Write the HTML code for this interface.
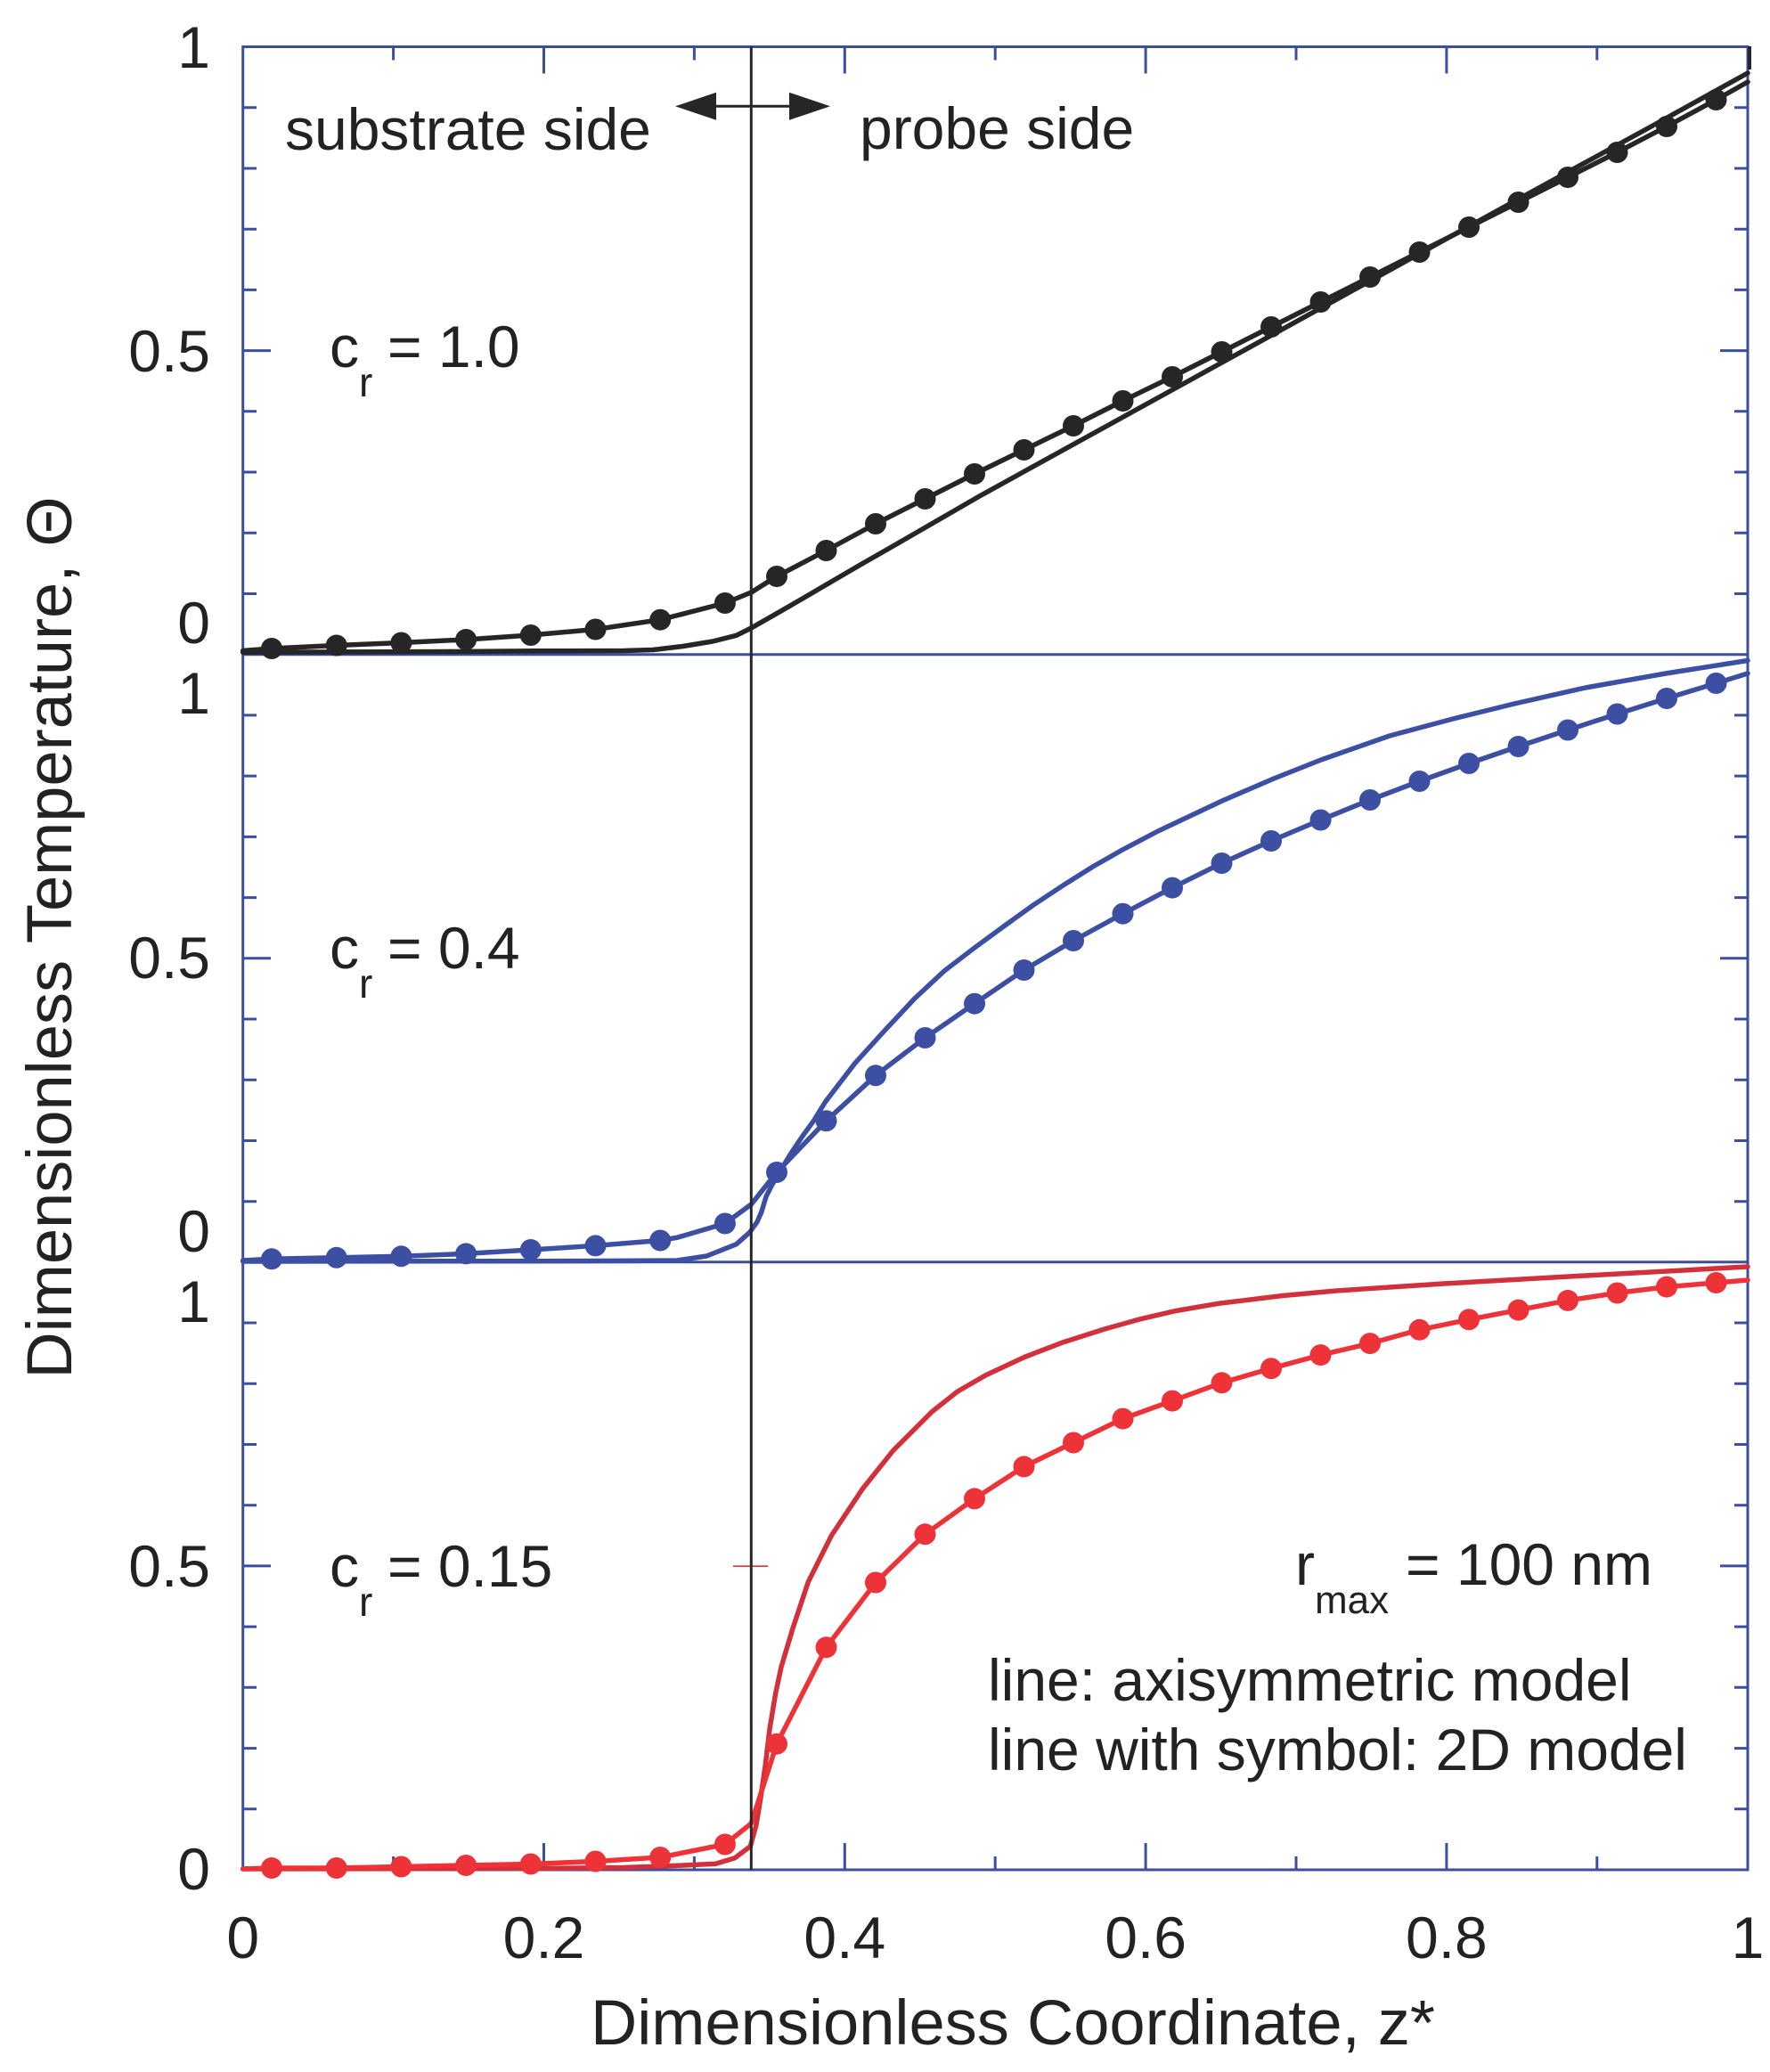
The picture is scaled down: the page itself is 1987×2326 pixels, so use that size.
<!DOCTYPE html>
<html>
<head>
<meta charset="utf-8">
<style>
html,body{margin:0;padding:0;background:#fff;}
svg{display:block;}
text{font-family:"Liberation Sans",Arial,sans-serif;fill:#222;}
</style>
</head>
<body>
<svg width="1987" height="2326" viewBox="0 0 1987 2326" xmlns="http://www.w3.org/2000/svg">
<rect x="0" y="0" width="1987" height="2326" fill="#fff"/>

<!-- Axes frame -->
<g stroke="#3d4ea0" stroke-width="3" fill="none">
  <rect x="272.7" y="52.5" width="1689.3" height="2046.5"/>
  <line x1="272.7" y1="734.7" x2="1962" y2="734.7"/>
  <line x1="272.7" y1="1416.8" x2="1962" y2="1416.8"/>
  <path d="M272.7 120.7H288M272.7 189H288M272.7 257.2H288M272.7 325.4H288M272.7 393.6H304M272.7 461.8H288M272.7 530H288M272.7 598.3H288M272.7 666.5H288
           M272.7 802.9H288M272.7 871.1H288M272.7 939.4H288M272.7 1007.6H288M272.7 1075.8H304M272.7 1144H288M272.7 1212.2H288M272.7 1280.5H288M272.7 1348.7H288
           M272.7 1485H288M272.7 1553.2H288M272.7 1621.5H288M272.7 1689.7H288M272.7 1757.9H304M272.7 1826.1H288M272.7 1894.3H288M272.7 1962.6H288M272.7 2030.8H288"/>
  <path d="M1962 120.7H1947M1962 189H1947M1962 257.2H1947M1962 325.4H1947M1962 393.6H1931M1962 461.8H1947M1962 530H1947M1962 598.3H1947M1962 666.5H1947
           M1962 802.9H1947M1962 871.1H1947M1962 939.4H1947M1962 1007.6H1947M1962 1075.8H1931M1962 1144H1947M1962 1212.2H1947M1962 1280.5H1947M1962 1348.7H1947
           M1962 1485H1947M1962 1553.2H1947M1962 1621.5H1947M1962 1689.7H1947M1962 1757.9H1931M1962 1826.1H1947M1962 1894.3H1947M1962 1962.6H1947M1962 2030.8H1947"/>
  <path d="M441.6 52.5V67.5M610.5 52.5V82.5M779.4 52.5V67.5M948.3 52.5V82.5M1117.2 52.5V67.5M1286.1 52.5V82.5M1455 52.5V67.5M1623.9 52.5V82.5M1792.8 52.5V67.5"/>
  <path d="M441.6 2099V2084M610.5 2099V2069M779.4 2099V2084M948.3 2099V2069M1117.2 2099V2084M1286.1 2099V2069M1455 2099V2084M1623.9 2099V2069M1792.8 2099V2084"/>
</g>

<!-- ===== Panel 1 (black, cr = 1.0) ===== -->
<g fill="none" stroke="#262626" stroke-width="5.5" stroke-linejoin="round" stroke-linecap="round">
  <polyline points="272.7,732.3 500,731.5 600,730.8 700,730.5 733,729.5 766.7,725.5 800,720 826.7,713.3 843.3,705 866.7,691.7 900,672.5 933.3,653 966.7,633.5 1000,614.5 1050,585.6 1100,556.7 1300,446.5 1500,336.3 1700,226 1850,144 1962,82"/>
  <polyline points="272.7,730.5 305,728 377.7,724.5 450.4,721.5 523.1,718 595.8,713 668.5,706.5 741.2,695.7 813.9,677 843.3,665 872,647 927.5,618 983,588 1038.5,560 1094,532 1149.5,505 1205,478 1260.5,450 1316,423 1371.5,395 1427,367 1482.5,339 1538,311 1593.5,283 1649,255 1704.5,227 1760,199 1815.5,171 1871,142 1926.5,112 1962,92"/>
</g>
<line x1="1964" y1="52" x2="1964" y2="78" stroke="#262626" stroke-width="4"/>
<g fill="#262626">
  <circle cx="305" cy="728" r="12"/><circle cx="377.7" cy="724.5" r="12"/><circle cx="450.4" cy="721.5" r="12"/><circle cx="523.1" cy="718" r="12"/>
  <circle cx="595.8" cy="713" r="12"/><circle cx="668.5" cy="706.5" r="12"/><circle cx="741.2" cy="695.7" r="12"/><circle cx="813.9" cy="677" r="12"/>
  <circle cx="872" cy="647" r="12"/><circle cx="927.5" cy="618" r="12"/><circle cx="983" cy="588" r="12"/><circle cx="1038.5" cy="560" r="12"/>
  <circle cx="1094" cy="532" r="12"/><circle cx="1149.5" cy="505" r="12"/><circle cx="1205" cy="478" r="12"/><circle cx="1260.5" cy="450" r="12"/>
  <circle cx="1316" cy="423" r="12"/><circle cx="1371.5" cy="395" r="12"/><circle cx="1427" cy="367" r="12"/><circle cx="1482.5" cy="339" r="12"/>
  <circle cx="1538" cy="311" r="12"/><circle cx="1593.5" cy="283" r="12"/><circle cx="1649" cy="255" r="12"/><circle cx="1704.5" cy="227" r="12"/>
  <circle cx="1760" cy="199" r="12"/><circle cx="1815.5" cy="171" r="12"/><circle cx="1871" cy="142" r="12"/><circle cx="1926.5" cy="112" r="12"/>
</g>

<!-- ===== Panel 2 (blue, cr = 0.4) ===== -->
<g fill="none" stroke="#3c4fa2" stroke-width="5.5" stroke-linejoin="round" stroke-linecap="round">
  <polyline points="272.7,1416 600,1415.7 700,1415.4 760,1415 793.3,1410 826.7,1396.7 841.7,1383.3 850,1371.7 855,1360 860,1343.3 866.7,1330 876.7,1313.3 886.7,1296.7 900,1276.7 913.3,1258.3 926.7,1236.7 960,1193.3 993.3,1156.7 1026.7,1121 1060,1090 1093.3,1064.5 1126.7,1040 1160,1016 1193.3,994 1226.7,973 1260,954 1300,933 1372,899 1430,874 1483,853 1560,826 1631,807 1700,790 1780,772 1870,756 1962,741.5"/>
  <polyline points="272.7,1415 305,1413.3 377.7,1411.8 450.4,1410.3 523.1,1407.4 595.8,1403 668.5,1398.4 741.2,1392.5 760,1389.3 813.9,1373.5 843.3,1352 872,1316 927.5,1258.3 983,1207.3 1038.5,1165 1094,1126.7 1149.5,1089 1205,1056 1260.5,1025.7 1316,996.6 1371.5,969 1427,944 1482.5,920.5 1538,898 1593.5,877 1649,857 1704.5,838 1760,819.5 1815.5,801.5 1871,784 1926.5,767 1962,756"/>
</g>
<g fill="#3c4fa2">
  <circle cx="305" cy="1413.3" r="12"/><circle cx="377.7" cy="1411.8" r="12"/><circle cx="450.4" cy="1410.3" r="12"/><circle cx="523.1" cy="1407.4" r="12"/>
  <circle cx="595.8" cy="1403" r="12"/><circle cx="668.5" cy="1398.4" r="12"/><circle cx="741.2" cy="1392.5" r="12"/><circle cx="813.9" cy="1373.5" r="12"/>
  <circle cx="872" cy="1316" r="12"/><circle cx="927.5" cy="1258.3" r="12"/><circle cx="983" cy="1207.3" r="12"/><circle cx="1038.5" cy="1165" r="12"/>
  <circle cx="1094" cy="1126.7" r="12"/><circle cx="1149.5" cy="1089" r="12"/><circle cx="1205" cy="1056" r="12"/><circle cx="1260.5" cy="1025.7" r="12"/>
  <circle cx="1316" cy="996.6" r="12"/><circle cx="1371.5" cy="969" r="12"/><circle cx="1427" cy="944" r="12"/><circle cx="1482.5" cy="920.5" r="12"/>
  <circle cx="1538" cy="898" r="12"/><circle cx="1593.5" cy="877" r="12"/><circle cx="1649" cy="857" r="12"/><circle cx="1704.5" cy="838" r="12"/>
  <circle cx="1760" cy="819.5" r="12"/><circle cx="1815.5" cy="801.5" r="12"/><circle cx="1871" cy="784" r="12"/><circle cx="1926.5" cy="767" r="12"/>
</g>

<!-- ===== Panel 3 (red, cr = 0.15) ===== -->
<g fill="none" stroke-width="5.5" stroke-linejoin="round" stroke-linecap="round">
  <polyline stroke="#d2303b" points="272.7,2098 600,2097.5 700,2096.5 760,2094.3 803.4,2092.2 825,2085.7 842.4,2072.6 848.9,2048.8 853.2,2022.8 858.9,1983.7 864.1,1940.4 870.6,1901.3 877.1,1871 890.1,1827.6 907.4,1775.6 933.5,1723.6 968.2,1671.5 1002.8,1628.2 1046.2,1584.8 1075,1562 1106.9,1543.6 1150,1523.5 1193.7,1506.7 1240,1492 1280.4,1480.7 1320,1471.5 1367.1,1463.4 1440,1454.5 1500,1449 1621,1441 1780,1432 1962,1422"/>
  <polyline stroke="#ee3338" points="272.7,2098 305,2097 377.7,2097 450.4,2095.5 523.1,2094 595.8,2092.5 668.5,2089.5 741.2,2085 813.9,2070.5 843.3,2047 872,1957.7 927.5,1849.3 983,1776.5 1038.5,1722.3 1094,1682.4 1149.5,1646.4 1205,1619.5 1260.5,1592.6 1316,1572.6 1371.5,1552.3 1427,1536.2 1482.5,1521.1 1538,1508.1 1593.5,1492.8 1649,1481.3 1704.5,1470.6 1760,1459.9 1815.5,1451.5 1871,1444.6 1926.5,1440 1962,1437"/>
</g>
<g fill="#ee3338">
  <circle cx="305" cy="2097" r="12"/><circle cx="377.7" cy="2097" r="12"/><circle cx="450.4" cy="2095.5" r="12"/><circle cx="523.1" cy="2094" r="12"/>
  <circle cx="595.8" cy="2092.5" r="12"/><circle cx="668.5" cy="2089.5" r="12"/><circle cx="741.2" cy="2085" r="12"/><circle cx="813.9" cy="2070.5" r="12"/>
  <circle cx="872" cy="1957.7" r="12"/><circle cx="927.5" cy="1849.3" r="12"/><circle cx="983" cy="1776.5" r="12"/><circle cx="1038.5" cy="1722.3" r="12"/>
  <circle cx="1094" cy="1682.4" r="12"/><circle cx="1149.5" cy="1646.4" r="12"/><circle cx="1205" cy="1619.5" r="12"/><circle cx="1260.5" cy="1592.6" r="12"/>
  <circle cx="1316" cy="1572.6" r="12"/><circle cx="1371.5" cy="1552.3" r="12"/><circle cx="1427" cy="1536.2" r="12"/><circle cx="1482.5" cy="1521.1" r="12"/>
  <circle cx="1538" cy="1508.1" r="12"/><circle cx="1593.5" cy="1492.8" r="12"/><circle cx="1649" cy="1481.3" r="12"/><circle cx="1704.5" cy="1470.6" r="12"/>
  <circle cx="1760" cy="1459.9" r="12"/><circle cx="1815.5" cy="1451.5" r="12"/><circle cx="1871" cy="1444.6" r="12"/><circle cx="1926.5" cy="1440" r="12"/>
</g>
<line x1="823" y1="1758.2" x2="862" y2="1758.2" stroke="#e0333a" stroke-width="1.6"/>

<!-- Vertical interface line -->
<line x1="843.3" y1="52.5" x2="843.3" y2="2099" stroke="#262626" stroke-width="3"/>

<!-- Double arrow -->
<line x1="790" y1="119.3" x2="900" y2="119.3" stroke="#262626" stroke-width="3"/>
<polygon points="758,119.3 804,103.8 804,134.8" fill="#262626"/>
<polygon points="932,119.3 886,103.8 886,134.8" fill="#262626"/>

<!-- Annotations -->
<text x="320" y="168" font-size="66">substrate side</text>
<text x="965" y="167" font-size="66">probe side</text>

<text x="370" y="412" font-size="66">c</text>
<text x="403" y="445" font-size="46">r</text>
<text x="435" y="412" font-size="66">= 1.0</text>

<text x="370" y="1087" font-size="66">c</text>
<text x="403" y="1120" font-size="46">r</text>
<text x="435" y="1087" font-size="66">= 0.4</text>

<text x="370" y="1781" font-size="66">c</text>
<text x="403" y="1814" font-size="46">r</text>
<text x="435" y="1781" font-size="66">= 0.15</text>

<text x="1454" y="1779" font-size="66">r</text>
<text x="1476" y="1811" font-size="44">max</text>
<text x="1578" y="1779" font-size="66">= 100 nm</text>

<text x="1109" y="1909" font-size="66">line: axisymmetric model</text>
<text x="1109" y="1987" font-size="66">line with symbol: 2D model</text>

<!-- Y tick labels -->
<g font-size="66" text-anchor="end">
  <text x="236" y="76">1</text>
  <text x="236" y="417">0.5</text>
  <text x="236" y="722">0</text>
  <text x="236" y="801">1</text>
  <text x="236" y="1098">0.5</text>
  <text x="236" y="1405">0</text>
  <text x="236" y="1484">1</text>
  <text x="236" y="1781">0.5</text>
  <text x="236" y="2121">0</text>
</g>

<!-- X tick labels -->
<g font-size="66" text-anchor="middle">
  <text x="272.7" y="2198">0</text>
  <text x="610.5" y="2198">0.2</text>
  <text x="948.3" y="2198">0.4</text>
  <text x="1286.1" y="2198">0.6</text>
  <text x="1623.9" y="2198">0.8</text>
  <text x="1962" y="2198">1</text>
</g>

<!-- Axis titles -->
<text x="663" y="2295" font-size="71" textLength="948" lengthAdjust="spacingAndGlyphs">Dimensionless Coordinate, z*</text>
<text transform="translate(80,1052.5) rotate(-90)" font-size="71" text-anchor="middle" textLength="990" lengthAdjust="spacingAndGlyphs">Dimensionless Temperature, Θ</text>
</svg>
</body>
</html>
